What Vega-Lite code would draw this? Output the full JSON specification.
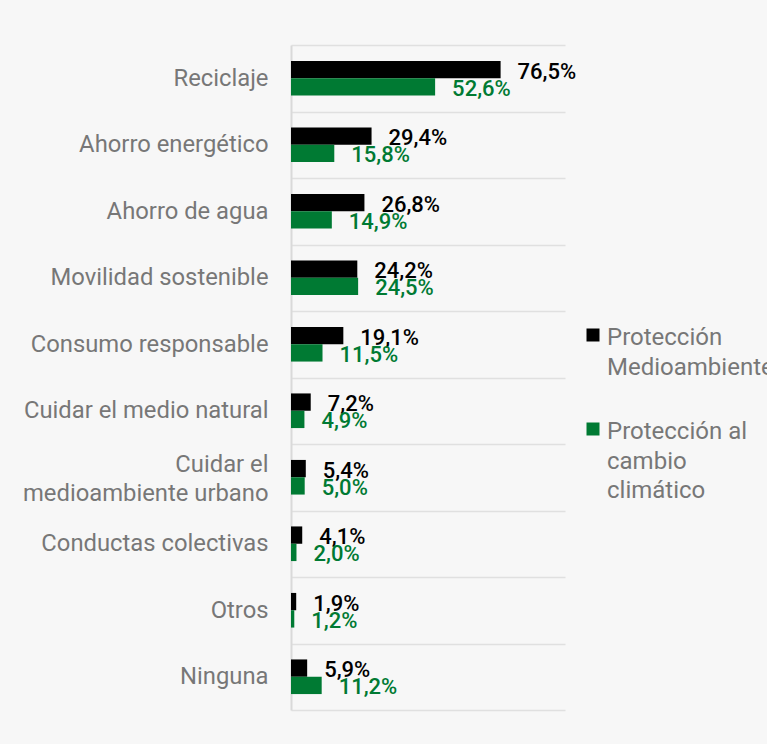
{
  "$schema": "https://vega.github.io/schema/vega-lite/v6.json",
  "width": 274,
  "height": 665,
  "autosize": {"type": "none"},
  "padding": {"left": 291, "top": 45, "right": 202, "bottom": 34},
  "background": "#f7f7f7",
  "data": {
    "values": [
      {"cat": "Reciclaje", "serie": "Protección Medioambiente", "value": 76.5},
      {"cat": "Reciclaje", "serie": "Protección al cambio climático", "value": 52.6},
      {"cat": "Ahorro energético", "serie": "Protección Medioambiente", "value": 29.4},
      {"cat": "Ahorro energético", "serie": "Protección al cambio climático", "value": 15.8},
      {"cat": "Ahorro de agua", "serie": "Protección Medioambiente", "value": 26.8},
      {"cat": "Ahorro de agua", "serie": "Protección al cambio climático", "value": 14.9},
      {"cat": "Movilidad sostenible", "serie": "Protección Medioambiente", "value": 24.2},
      {"cat": "Movilidad sostenible", "serie": "Protección al cambio climático", "value": 24.5},
      {"cat": "Consumo responsable", "serie": "Protección Medioambiente", "value": 19.1},
      {"cat": "Consumo responsable", "serie": "Protección al cambio climático", "value": 11.5},
      {"cat": "Cuidar el medio natural", "serie": "Protección Medioambiente", "value": 7.2},
      {"cat": "Cuidar el medio natural", "serie": "Protección al cambio climático", "value": 4.9},
      {"cat": "Cuidar el medioambiente urbano", "serie": "Protección Medioambiente", "value": 5.4},
      {"cat": "Cuidar el medioambiente urbano", "serie": "Protección al cambio climático", "value": 5.0},
      {"cat": "Conductas colectivas", "serie": "Protección Medioambiente", "value": 4.1},
      {"cat": "Conductas colectivas", "serie": "Protección al cambio climático", "value": 2.0},
      {"cat": "Otros", "serie": "Protección Medioambiente", "value": 1.9},
      {"cat": "Otros", "serie": "Protección al cambio climático", "value": 1.2},
      {"cat": "Ninguna", "serie": "Protección Medioambiente", "value": 5.9},
      {"cat": "Ninguna", "serie": "Protección al cambio climático", "value": 11.2}
    ]
  },
  "encoding": {
    "y": {
      "field": "cat",
      "type": "nominal",
      "sort": null,
      "scale": {"paddingInner": 0, "paddingOuter": 0},
      "axis": {
        "title": null,
        "grid": true,
        "tickBand": "extent",
        "gridColor": "#e0e0e0",
        "gridWidth": 1.5,
        "domain": true,
        "domainColor": "#d9d9d9",
        "domainWidth": 2,
        "ticks": false,
        "tickSize": 0,
        "labelFont": "Roboto",
        "labelFontSize": 23.8,
        "labelColor": "#777777",
        "labelPadding": 23,
        "labelLimit": 400,
        "labelLineHeight": 29,
        "labelExpr": "datum.value == 'Cuidar el medioambiente urbano' ? ['Cuidar el', 'medioambiente urbano'] : datum.value",
        "labelOffset": {
          "condition": {"test": "datum.value == 'Cuidar el medioambiente urbano'", "value": -13},
          "value": 0
        }
      }
    },
    "yOffset": {
      "field": "serie",
      "type": "nominal",
      "sort": ["Protección Medioambiente", "Protección al cambio climático"],
      "scale": {"paddingInner": 0, "paddingOuter": 0.92}
    },
    "x": {
      "field": "value",
      "type": "quantitative",
      "scale": {"domain": [0, 100]},
      "axis": null
    },
    "color": {
      "field": "serie",
      "type": "nominal",
      "sort": ["Protección Medioambiente", "Protección al cambio climático"],
      "scale": {
        "domain": ["Protección Medioambiente", "Protección al cambio climático"],
        "range": ["#000000", "#007a33"]
      },
      "legend": {
        "title": null,
        "orient": "none",
        "legendX": 290,
        "legendY": 278,
        "padding": 0,
        "symbolType": "square",
        "symbolSize": 169,
        "symbolStrokeWidth": 0,
        "labelFont": "Roboto",
        "labelFontSize": 24,
        "labelColor": "#777777",
        "labelLimit": 1000,
        "labelOffset": 2,
        "labelBaseline": "top",
        "rowPadding": 37,
        "labelExpr": "datum.label == 'Protección Medioambiente' ? ['Protección', 'Medioambiente'] : ['Protección al', 'cambio', 'climático']",
        "encode": {"labels": {"update": {"lineHeight": {"value": 29.5}, "dy": {"value": -9}}}}
      }
    }
  },
  "layer": [
    {"mark": {"type": "bar"}},
    {
      "transform": [
        {"calculate": "replace(format(datum.value, '.1f'), '.', ',') + '%'", "as": "label"}
      ],
      "mark": {
        "type": "text",
        "align": "left",
        "baseline": "middle",
        "dx": 17,
        "dy": 2,
        "font": "Roboto",
        "fontSize": 22,
        "fontWeight": 500
      },
      "encoding": {"text": {"field": "label"}}
    }
  ],
  "config": {"view": {"stroke": null}}
}
